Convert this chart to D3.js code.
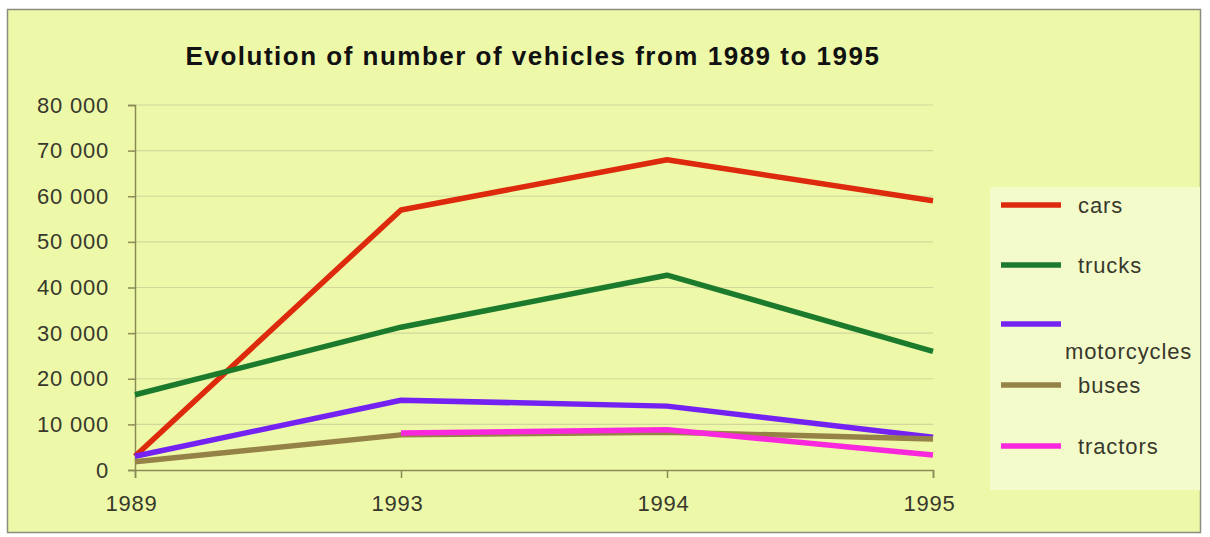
<!DOCTYPE html>
<html>
<head>
<meta charset="utf-8">
<script src="https://cdn.jsdelivr.net/npm/d3@7"></script>
<style>
  body { margin: 0; background: #fff; }
  svg { display: block; }
</style>
</head>
<body>
<svg width="1210" height="537"></svg>
<script>
// chart data
const years = ["1989", "1993", "1994", "1995"];
const cars = [3000, 57000, 68000, 59000];
const trucks = [16500, 31300, 42700, 26000];
const motorcycles = [3000, 15300, 14000, 7200];
const buses = [1800, 7700, 8300, 6800];
const tractors = [null, 8100, 8800, 3300];
const yTicks = [0, 10000, 20000, 30000, 40000, 50000, 60000, 70000, 80000];

const series = [
  {name: "cars", values: cars, color: "#dd2a0c"},
  {name: "trucks", values: trucks, color: "#1c7a2c"},
  {name: "motorcycles", values: motorcycles, color: "#7422f2"},
  {name: "buses", values: buses, color: "#958247"},
  {name: "tractors", values: tractors, color: "#fa28dc"}
];

const svg = d3.select("svg");
const margin = {top: 105, left: 135};
const width = 933 - 135;
const height = 470 - 105;
const font = "Liberation Sans, Arial, sans-serif";

// background panel
svg.append("rect")
   .attr("x", 7.5).attr("y", 9.5)
   .attr("width", 1193).attr("height", 523)
   .attr("fill", "#edf9a9")
   .attr("stroke", "#8c8c7c")
   .attr("stroke-width", 1.5);

svg.append("text")
   .attr("x", 533)
   .attr("y", 65)
   .attr("text-anchor", "middle")
   .style("font-family", font)
   .style("font-weight", "bold")
   .style("font-size", "26px")
   .style("letter-spacing", "1.5px")
   .style("fill", "#111")
   .text("Evolution of number of vehicles from 1989 to 1995");

const g = svg.append("g")
   .attr("transform", "translate(" + margin.left + "," + margin.top + ")");

const xScale = d3.scalePoint().domain(years).range([0, width]);
const yScale = d3.scaleLinear().domain([0, 80000]).range([height, 0]);

// gridlines
g.selectAll(".grid")
 .data(yTicks.slice(1))
 .enter()
 .append("line")
 .attr("x1", 0).attr("x2", width)
 .attr("y1", d => yScale(d)).attr("y2", d => yScale(d))
 .attr("stroke", "#d2d89c")
 .attr("stroke-width", 1.2);

const fmt = d => d === 0 ? "0" : d3.format(",")(d).replace(",", " ");

const yAxis = g.append("g")
 .call(d3.axisLeft(yScale).tickValues(yTicks).tickFormat(fmt).tickSize(7).tickPadding(19));
const xAxis = g.append("g")
 .attr("transform", "translate(0," + height + ")")
 .call(d3.axisBottom(xScale).tickSize(8).tickPadding(17));

[yAxis, xAxis].forEach(ax => {
  ax.select(".domain").attr("stroke", "#8a8a55").attr("stroke-width", 1.5);
  ax.selectAll(".tick line").attr("stroke", "#8a8a55").attr("stroke-width", 1.5);
  ax.selectAll("text")
    .style("font-family", font)
    .style("font-size", "22px")
    .style("letter-spacing", "0.8px")
    .style("fill", "#38382c");
});
xAxis.selectAll("text").attr("dx", -4);

const line = d3.line()
  .defined(d => d != null)
  .x((d, i) => xScale(years[i]))
  .y(d => yScale(d));

g.selectAll(".series")
 .data(series)
 .enter()
 .append("path")
 .attr("d", d => line(d.values))
 .attr("fill", "none")
 .attr("stroke", d => d.color)
 .attr("stroke-width", 5.5)
 .attr("stroke-linejoin", "round");

// legend
svg.append("rect")
   .attr("x", 990).attr("y", 187)
   .attr("width", 210).attr("height", 303)
   .attr("fill", "#f3fbcb");

const legendY = [205, 265, 324, 385, 446];
const legend = svg.selectAll(".legend")
  .data(series)
  .enter()
  .append("g")
  .attr("transform", (d, i) => "translate(1001," + legendY[i] + ")");

legend.append("line")
  .attr("x1", 0).attr("x2", 60)
  .attr("stroke", d => d.color)
  .attr("stroke-width", 5.5);

legend.append("text")
  .attr("x", d => d.name === "motorcycles" ? 64 : 77)
  .attr("y", d => d.name === "motorcycles" ? 35 : 8)
  .style("font-family", font)
  .style("font-size", "22px")
  .style("letter-spacing", "0.9px")
  .style("fill", "#38382c")
  .text(d => d.name);
</script>
</body>
</html>
